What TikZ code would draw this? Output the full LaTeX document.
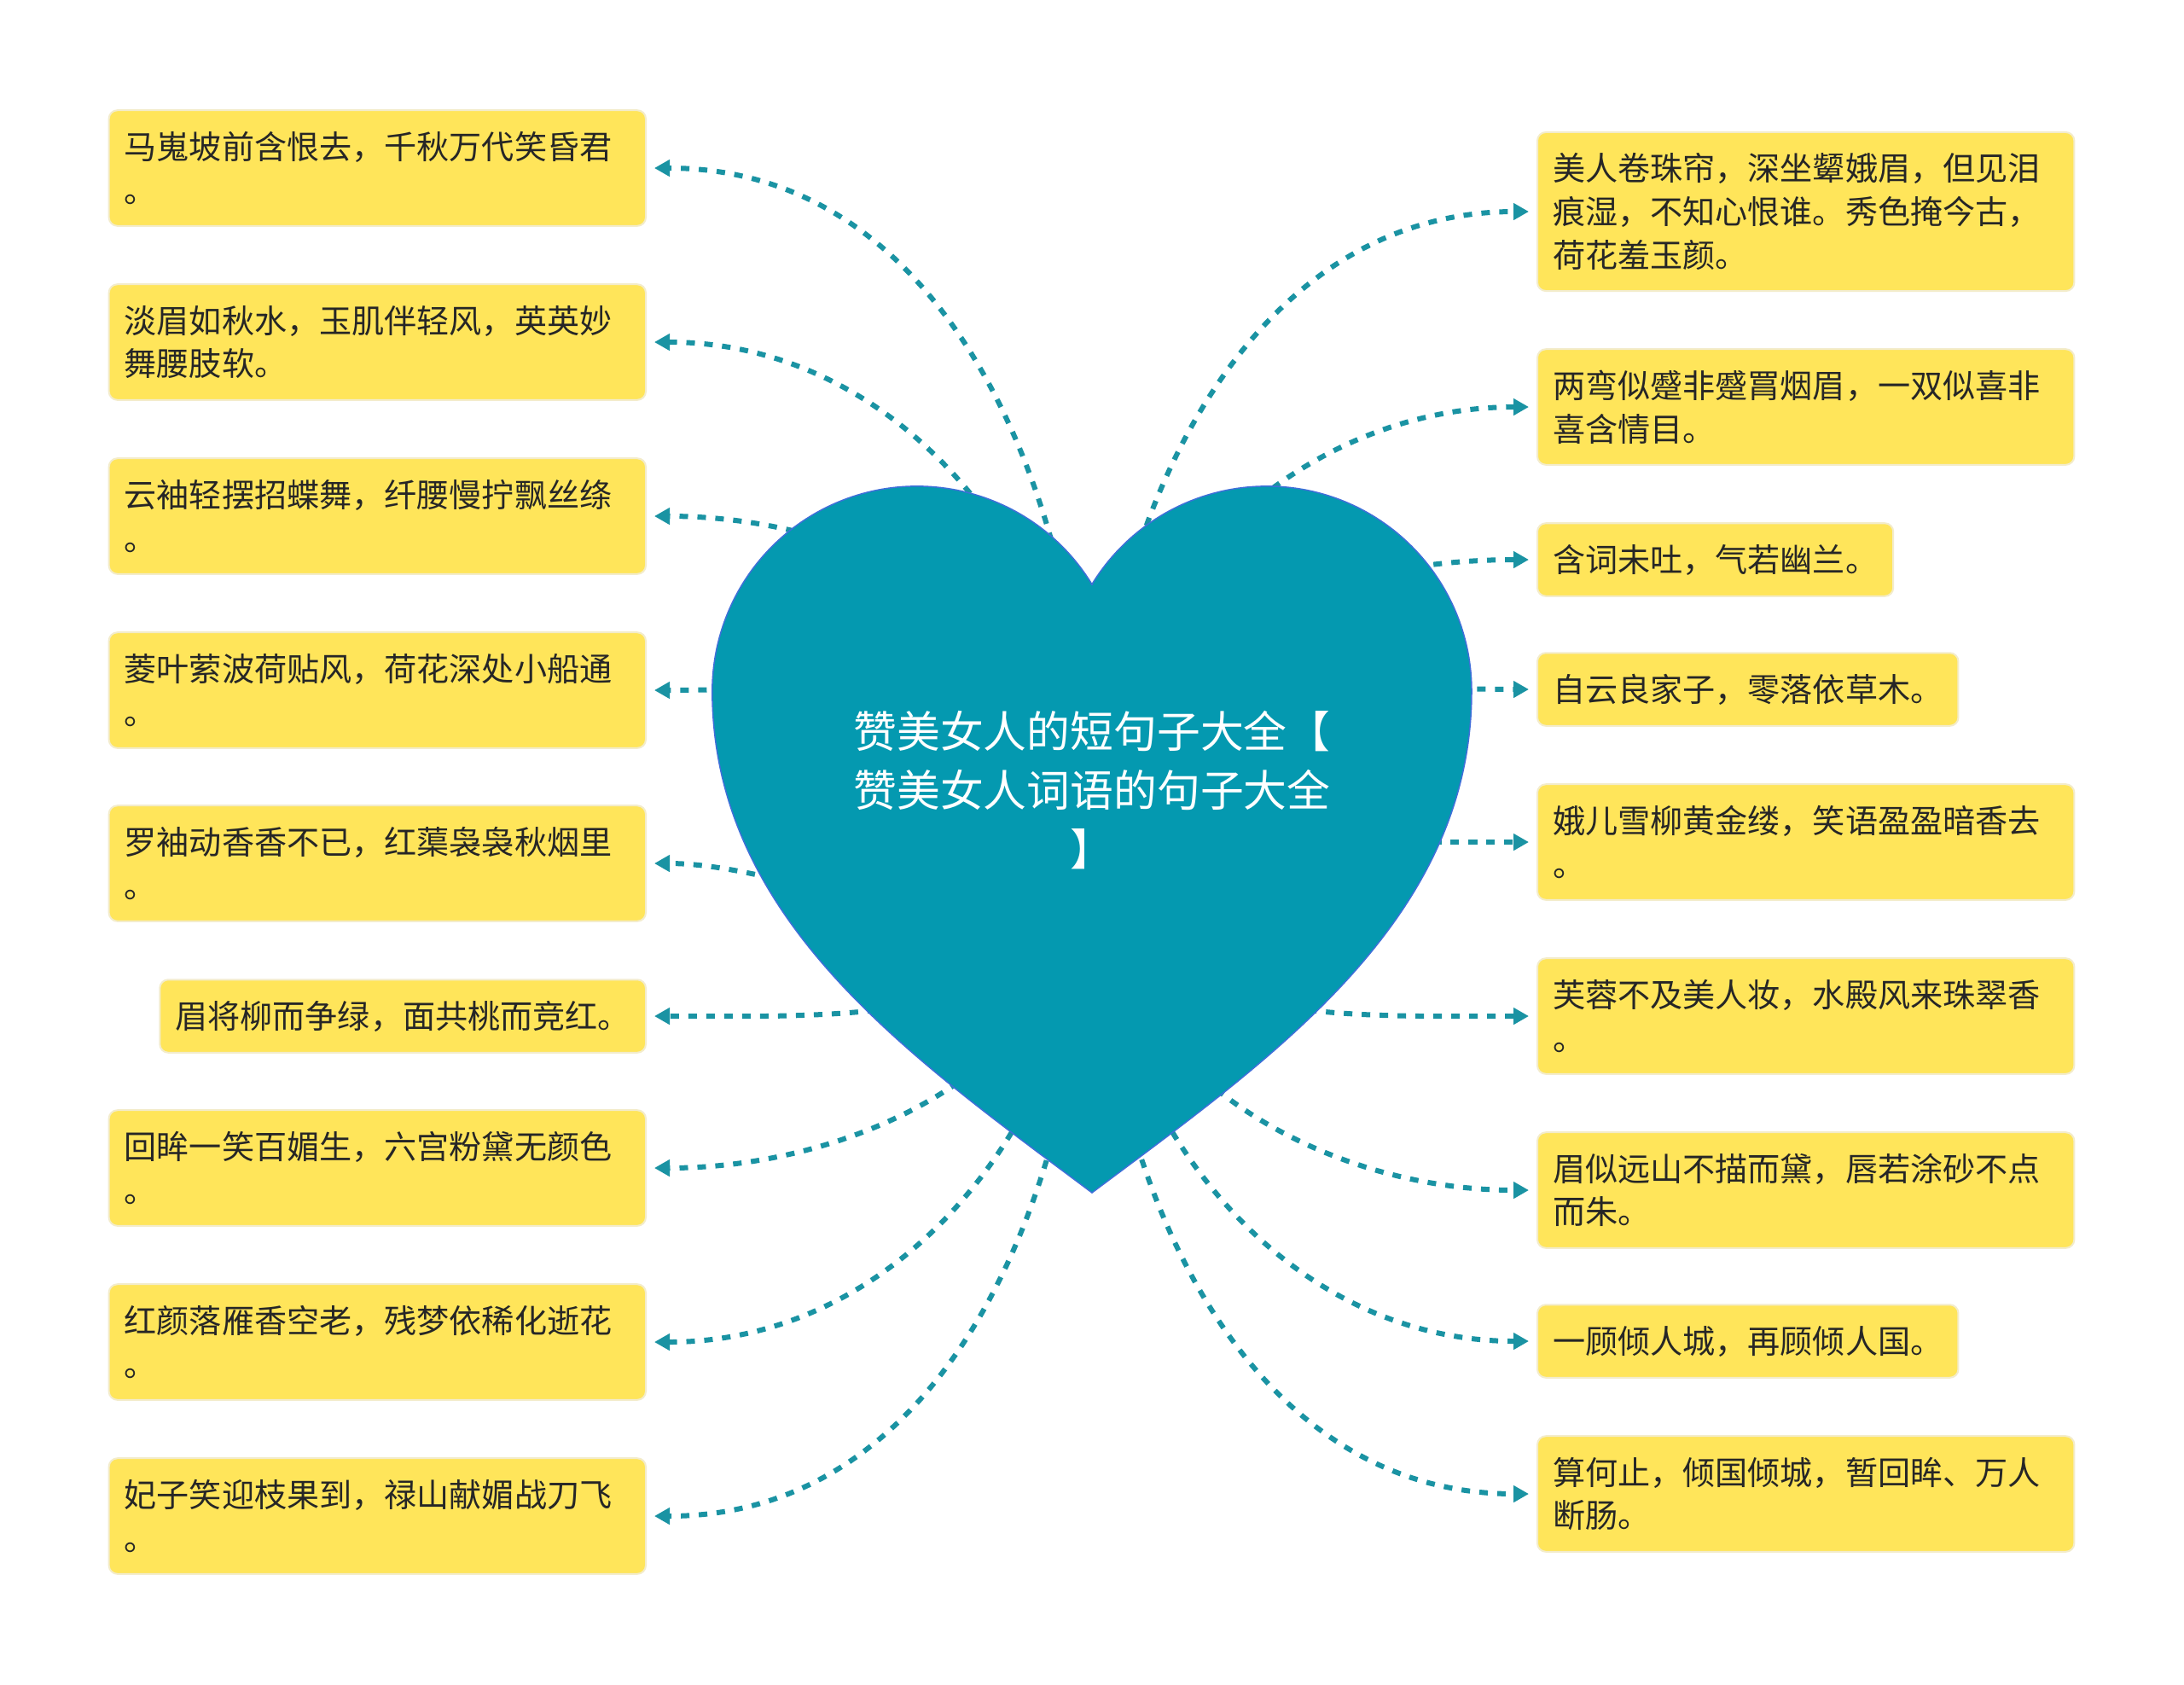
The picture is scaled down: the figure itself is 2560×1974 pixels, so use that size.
\documentclass[tikz,border=0pt]{standalone}
\usepackage{fontspec}
\setmainfont{Noto Sans CJK SC}
\usetikzlibrary{arrows.meta}
\definecolor{boxfill}{HTML}{FFE55A}
\definecolor{boxline}{HTML}{F3ECCB}
\definecolor{txt}{HTML}{262626}
\definecolor{heartfill}{HTML}{0499B0}
\definecolor{heartline}{HTML}{3F6FD9}
\definecolor{linkc}{HTML}{1A93A3}
\tikzset{
  leaf/.style={fill=boxfill, draw=boxline, line width=0.02cm, rounded corners=0.1cm,
    inner xsep=0.18cm, inner ysep=0cm, text=txt, align=left,
    font=\fontsize{10.84pt}{14.4pt}\selectfont},
  wide/.style={text width=5.93cm},
  hone/.style={minimum height=0.855cm},
  htwo/.style={minimum height=1.355cm},
  hthree/.style={minimum height=1.86cm},
  link/.style={draw=linkc, line width=0.06cm, dash pattern=on 0.1cm off 0.11cm,
    -{Triangle[length=0.18cm,width=0.19cm]}, shorten >=0.09cm},
}
\begin{document}
\begin{tikzpicture}[x=0.01cm,y=-0.01cm]
\useasboundingbox (0,0) rectangle (2560,1974);
\fill[white] (0,0) rectangle (2560,1974);

% left boxes
\node[leaf,wide,htwo,anchor=east] (L1) at (758,197) {马嵬坡前含恨去，千秋万代笑昏君\\。};
\node[leaf,wide,htwo,anchor=east] (L2) at (758,401) {淡眉如秋水，玉肌伴轻风，英英妙\\舞腰肢软。};
\node[leaf,wide,htwo,anchor=east] (L3) at (758,605) {云袖轻摆招蝶舞，纤腰慢拧飘丝绦\\。};
\node[leaf,wide,htwo,anchor=east] (L4) at (758,809) {菱叶萦波荷贴风，荷花深处小船通\\。};
\node[leaf,wide,htwo,anchor=east] (L5) at (758,1012) {罗袖动香香不已，红蕖袅袅秋烟里\\。};
\node[leaf,hone,anchor=east] (L6) at (758,1191) {眉将柳而争绿，面共桃而竞红。};
\node[leaf,wide,htwo,anchor=east] (L7) at (758,1369) {回眸一笑百媚生，六宫粉黛无颜色\\。};
\node[leaf,wide,htwo,anchor=east] (L8) at (758,1573) {红颜落雁香空老，残梦依稀化逝花\\。};
\node[leaf,wide,htwo,anchor=east] (L9) at (758,1777) {妃子笑迎枝果到，禄山献媚战刀飞\\。};

% right boxes
\node[leaf,wide,hthree,anchor=west] (R1) at (1801,248) {美人卷珠帘，深坐颦娥眉，但见泪\\痕湿，不知心恨谁。秀色掩今古，\\荷花羞玉颜。};
\node[leaf,wide,htwo,anchor=west] (R2) at (1801,477) {两弯似蹙非蹙罥烟眉，一双似喜非\\喜含情目。};
\node[leaf,hone,anchor=west] (R3) at (1801,656) {含词未吐，气若幽兰。};
\node[leaf,hone,anchor=west] (R4) at (1801,808) {自云良家子，零落依草木。};
\node[leaf,wide,htwo,anchor=west] (R5) at (1801,987) {娥儿雪柳黄金缕，笑语盈盈暗香去\\。};
\node[leaf,wide,htwo,anchor=west] (R6) at (1801,1191) {芙蓉不及美人妆，水殿风来珠翠香\\。};
\node[leaf,wide,htwo,anchor=west] (R7) at (1801,1395) {眉似远山不描而黛，唇若涂砂不点\\而朱。};
\node[leaf,hone,anchor=west] (R8) at (1801,1572) {一顾倾人城，再顾倾人国。};
\node[leaf,wide,htwo,anchor=west] (R9) at (1801,1751) {算何止，倾国倾城，暂回眸、万人\\断肠。};

% connectors (start hidden under the heart)
\coordinate (hc) at (1280,987);
\draw[link] (hc) to[out=90,in=0] (L1.east);
\draw[link] (hc) to[out=90,in=0] (L2.east);
\draw[link] (hc) to[out=90,in=0] (L3.east);
\draw[link] (hc) to[out=90,in=0] (L4.east);
\draw[link] (hc) to[out=270,in=0] (L5.east);
\draw[link] (hc) to[out=270,in=0] (L6.east);
\draw[link] (hc) to[out=270,in=0] (L7.east);
\draw[link] (hc) to[out=270,in=0] (L8.east);
\draw[link] (hc) to[out=270,in=0] (L9.east);
\draw[link] (hc) to[out=90,in=180] (R1.west);
\draw[link] (hc) to[out=90,in=180] (R2.west);
\draw[link] (hc) to[out=90,in=180] (R3.west);
\draw[link] (hc) to[out=90,in=180] (R4.west);
\draw[link] (hc) to[out=0,in=180] (R5.west);
\draw[link] (hc) to[out=270,in=180] (R6.west);
\draw[link] (hc) to[out=270,in=180] (R7.west);
\draw[link] (hc) to[out=270,in=180] (R8.west);
\draw[link] (hc) to[out=270,in=180] (R9.west);

% heart
\filldraw[fill=heartfill, draw=heartline, line width=0.015cm]
  (1280,685) arc[start angle=31.37, end angle=180, radius=2.40cm]
  .. controls (835,1080) and (1072,1242) .. (1280,1398)
  .. controls (1488,1242) and (1725,1080) .. (1725,810)
  arc[start angle=0, end angle=148.63, radius=2.40cm] -- cycle;

\node[text=white, align=center, font=\fontsize{14.45pt}{19.6pt}\selectfont] (root) at (1280,926)
  {赞美女人的短句子大全【\\赞美女人词语的句子大全\\】};
\end{tikzpicture}
\end{document}
